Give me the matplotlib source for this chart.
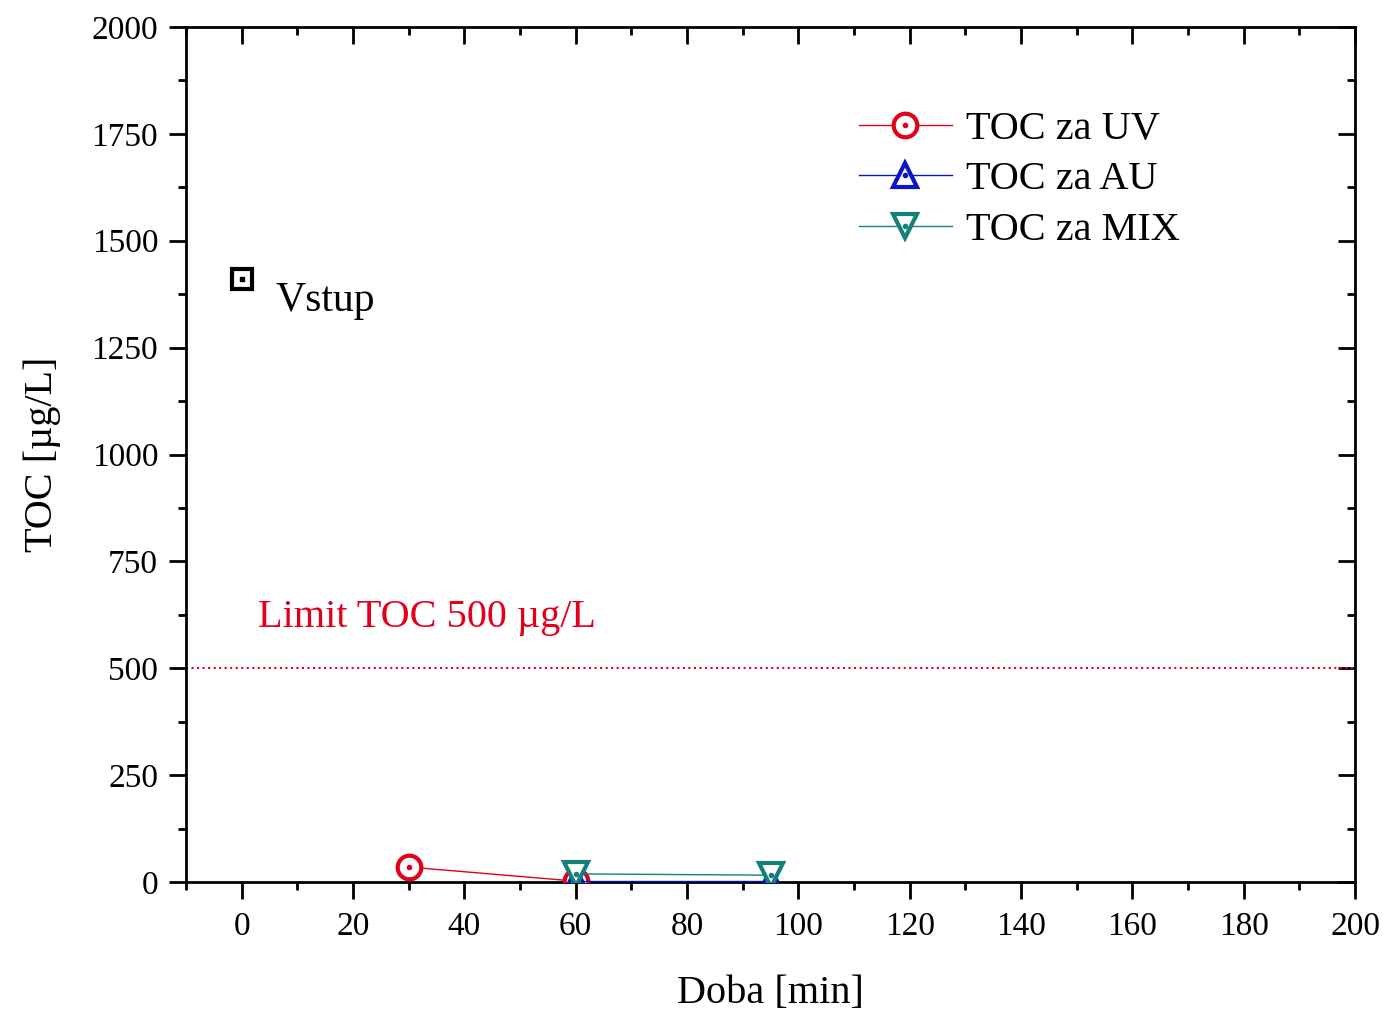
import matplotlib.pyplot as plt
from matplotlib.lines import Line2D
from matplotlib.legend_handler import HandlerTuple
from matplotlib.ticker import MultipleLocator

plt.rcParams['font.family'] = ['Liberation Serif', 'DejaVu Serif']

# data
uv_x = [30, 60]
uv_y = [35, 2]
au_x = [60, 95]
au_y = [3, 3]
mix_x = [60, 95]
mix_y = [19, 16]
vstup_x = [0]
vstup_y = [1410]
limit = 500

fig = plt.figure(figsize=(13.84, 10.11), dpi=100)
ax = fig.add_axes([186 / 1384, 1 - 882 / 1011, (1355 - 186) / 1384, (882 - 27) / 1011])

series = [
    (uv_x, uv_y, '#e3001b', 'o', 'TOC za UV'),
    (au_x, au_y, '#0a14c8', '^', 'TOC za AU'),
    (mix_x, mix_y, '#13807a', 'v', 'TOC za MIX'),
]
handles = []
for i, (xs, ys, c, m, lab) in enumerate(series):
    z = 2 + 3 * i
    ax.plot(xs, ys, color=c, lw=1, zorder=z)
    ax.plot(xs, ys, ls='none', marker=m, ms=17, mfc='white', mec=c, mew=3, zorder=z + 1)
    ax.plot(xs, ys, ls='none', marker='o', ms=3, color=c, zorder=z + 2)
    h1 = Line2D([], [], color=c, lw=1, marker=m, ms=17, mfc='white', mec=c, mew=3)
    h2 = Line2D([], [], ls='none', marker='o', ms=3, color=c)
    handles.append(((h1, h2), lab))

ax.plot(vstup_x, vstup_y, ls='none', marker='s', ms=14, mfc='none', mec='black', mew=3)
ax.plot(vstup_x, vstup_y, ls='none', marker='s', ms=3, color='black')
ax.text(6, 1360, 'Vstup', fontsize=30, va='center', ha='left')

ax.axhline(limit, color='#e3001b', ls=':', lw=1.5)
ax.text(3, 618, 'Limit TOC 500 \u00b5g/L', color='#e3001b', fontsize=29, va='center')

ax.set_xlim(-10, 200)
ax.set_ylim(0, 2000)
ax.xaxis.set_major_locator(MultipleLocator(20))
ax.xaxis.set_minor_locator(MultipleLocator(10))
ax.yaxis.set_major_locator(MultipleLocator(250))
ax.yaxis.set_minor_locator(MultipleLocator(125))
ax.tick_params(which='both', direction='out', top=True, right=True, labelsize=24, width=2)
ax.tick_params(which='major', length=12)
ax.tick_params(which='minor', length=6)
ax.tick_params(axis='x', pad=9)
ax.tick_params(axis='y', pad=8)
# inward ticks on top and right
for t in ax.xaxis.get_major_ticks() + ax.xaxis.get_minor_ticks():
    t.tick2line.set_marker(3)
for t in ax.yaxis.get_major_ticks() + ax.yaxis.get_minor_ticks():
    t.tick2line.set_marker(0)
for s in ax.spines.values():
    s.set_linewidth(2)

ax.set_xlabel('Doba [min]', fontsize=29, labelpad=24)
ax.set_ylabel('TOC [\u00b5g/L]', fontsize=29, labelpad=22)

ax.legend([h for h, _ in handles], [l for _, l in handles],
          handler_map={tuple: HandlerTuple(ndivide=1)},
          loc='upper left', bbox_to_anchor=(0.562, 0.921), frameon=False,
          fontsize=29, handlelength=2.3, handletextpad=0.35, labelspacing=0.33,
          borderaxespad=0)

fig.savefig('out.png', dpi=100)
